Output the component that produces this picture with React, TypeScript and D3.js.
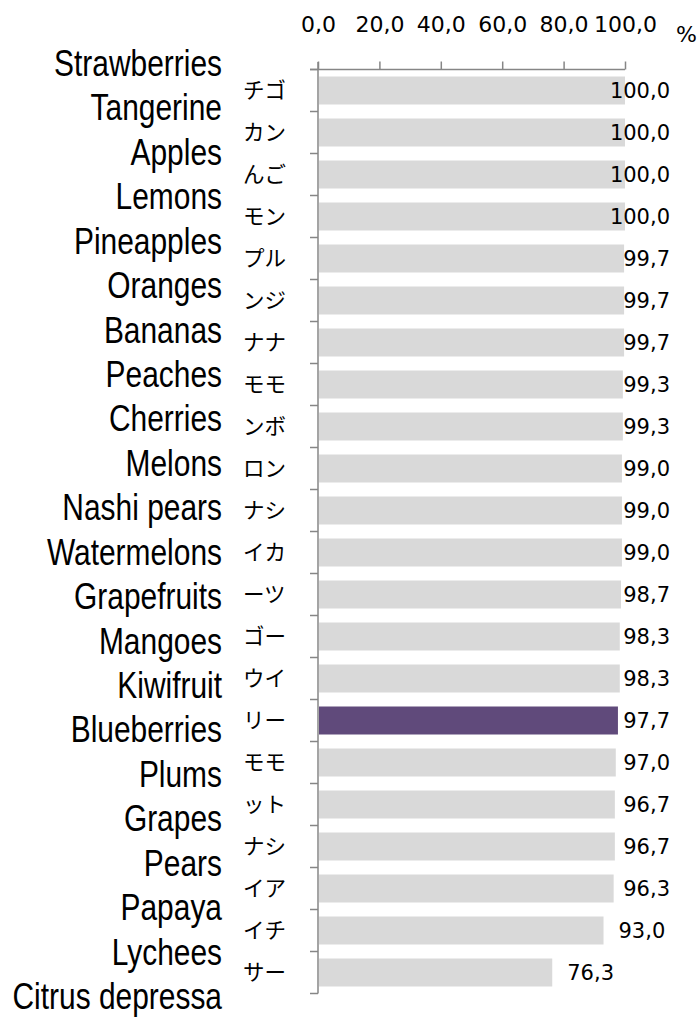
import React, { useEffect, useRef } from "react";
import * as d3 from "d3";

// english names down the left (drawn on their own spacing, like the original)
const fruitNames = [
  "Strawberries", "Tangerine", "Apples", "Lemons", "Pineapples", "Oranges",
  "Bananas", "Peaches", "Cherries", "Melons", "Nashi pears", "Watermelons",
  "Grapefruits", "Mangoes", "Kiwifruit", "Blueberries", "Plums", "Grapes",
  "Pears", "Papaya", "Lychees", "Citrus depressa",
];

// the (cut off) japanese category labels, one per bar
const jpLabels = [
  "チゴ", "カン", "んご", "モン", "プル", "ンジ", "ナナ", "モモ", "ンボ", "ロン", "ナシ",
  "イカ", "ーツ", "ゴー", "ウイ", "リー", "モモ", "ット", "ナシ", "イア", "イチ", "サー",
];

const values = [
  100.0, 100.0, 100.0, 100.0, 99.7, 99.7, 99.7, 99.3, 99.3, 99.0, 99.0,
  99.0, 98.7, 98.3, 98.3, 97.7, 97.0, 96.7, 96.7, 96.3, 93.0, 76.3,
];

const highlightIndex = 15;
const xTicks = [0, 20, 40, 60, 80, 100];

const W = 699;
const H = 1022;

const fmt = (v: number) => d3.format(".1f")(v).replace(".", ",");

export default function App() {
  const ref = useRef<SVGSVGElement>(null);

  useEffect(() => {
    const svg = d3.select(ref.current);
    svg.selectAll("*").remove();

    const data = jpLabels.map((k, i) => ({ key: i, label: k, value: values[i] }));

    const x = d3.scaleLinear().domain([0, 100]).range([318, 625]);
    const y = d3
      .scaleBand<number>()
      .domain(data.map((d) => d.key))
      .range([69.5, 993.5])
      .paddingInner(1 / 3)
      .paddingOuter(1 / 6);
    const yCat = d3.scaleBand<number>().domain(data.map((d) => d.key)).range([69.5, 993.5]);
    const yName = d3.scalePoint<string>().domain(fruitNames).range([76, 1009]);

    // bars
    svg
      .append("g")
      .selectAll("rect")
      .data(data)
      .join("rect")
      .attr("x", x(0) + 1)
      .attr("y", (d) => y(d.key)!)
      .attr("width", (d) => x(d.value) - x(0) - 1)
      .attr("height", y.bandwidth())
      .attr("fill", (d) => (d.key === highlightIndex ? "#604a7b" : "#d9d9d9"));

    // top axis
    const top = svg
      .append("g")
      .attr("transform", `translate(0, 69.5)`)
      .call(d3.axisTop(x).tickValues(xTicks).tickSize(8).tickPadding(29.5).tickFormat((d) => fmt(+d)));
    top.select(".domain").attr("stroke", "#868686").attr("stroke-width", 1.5).attr("d", `M310,0H${x(100)}`);
    top.selectAll(".tick line").attr("stroke", "#868686").attr("stroke-width", 1.5);
    top
      .selectAll(".tick text")
      .attr("fill", "#000")
      .attr("font-family", "DejaVu Sans")
      .attr("font-size", 22);

    svg
      .append("text")
      .attr("x", 676)
      .attr("y", 42)
      .attr("font-family", "DejaVu Sans")
      .attr("font-size", 22)
      .text("%");

    // left axis (category boundaries)
    const left = svg
      .append("g")
      .attr("transform", `translate(${x(0)},0)`);
    left
      .append("line")
      .attr("x1", 0)
      .attr("x2", 0)
      .attr("y1", 62)
      .attr("y2", yCat.range()[1])
      .attr("stroke", "#868686")
      .attr("stroke-width", 1.5);
    left
      .selectAll("line.tk")
      .data([...data.map((d) => yCat(d.key)!), yCat.range()[1]])
      .join("line")
      .attr("class", "tk")
      .attr("x1", -8)
      .attr("x2", 0)
      .attr("y1", (d) => d)
      .attr("y2", (d) => d)
      .attr("stroke", "#868686")
      .attr("stroke-width", 1.5);

    // japanese labels
    svg
      .append("g")
      .selectAll("text")
      .data(data)
      .join("text")
      .attr("x", 243)
      .attr("y", (d) => yCat(d.key)! + yCat.bandwidth() / 2)
      .attr("dy", "0.35em")
      .attr("font-family", "Noto Sans CJK JP")
      .attr("font-size", 21.5)
      .text((d) => d.label);

    // english names, squeezed like a narrow face
    svg
      .append("g")
      .selectAll("text")
      .data(fruitNames)
      .join("text")
      .attr("transform", (d) => `translate(222, ${yName(d)}) scale(0.82, 1)`)
      .attr("text-anchor", "end")
      .attr("font-family", "Liberation Sans")
      .attr("font-size", 36.5)
      .text((d) => d);

    // value labels, pushed back inside the plot at the right edge
    svg
      .append("g")
      .selectAll("text")
      .data(data)
      .join("text")
      .attr("y", (d) => y(d.key)! + y.bandwidth() / 2)
      .attr("dy", "0.35em")
      .attr("font-family", "DejaVu Sans")
      .attr("font-size", 21)
      .text((d) => fmt(d.value))
      .attr("x", function (d) {
        const w = (this as SVGTextElement).getComputedTextLength();
        return Math.min(x(d.value) + 15, 670 - w);
      });
  }, []);

  return (
    <svg
      ref={ref}
      width={W}
      height={H}
      style={{ position: "absolute", left: 0, top: 0, background: "#fff" }}
    />
  );
}
